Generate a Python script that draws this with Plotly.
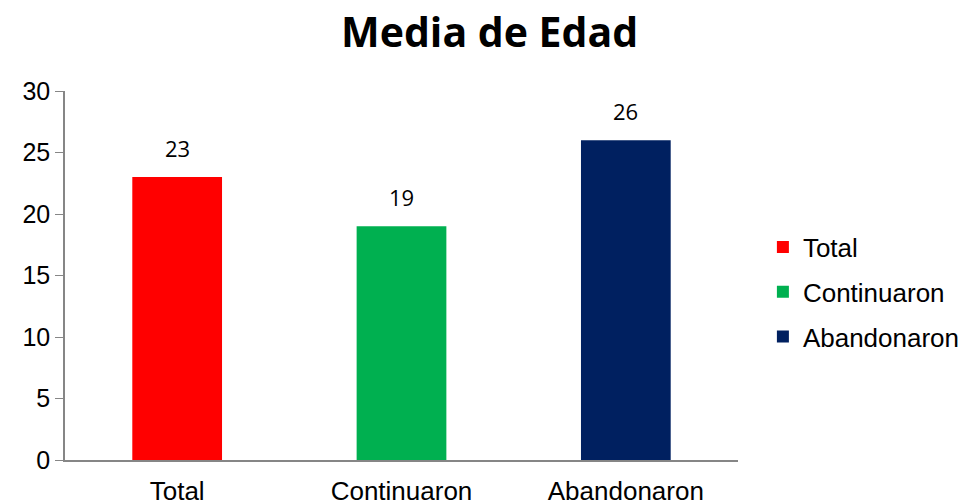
import plotly.graph_objects as go

categories = ["Total", "Continuaron", "Abandonaron"]
values = [23, 19, 26]
colors = ["#FF0000", "#00B050", "#002060"]

fig = go.Figure()
for cat, val, col in zip(categories, values, colors):
    fig.add_trace(go.Bar(
        x=[cat], y=[val], name=cat, legendgroup=cat,
        marker=dict(color=col, line=dict(width=0)),
        width=0.4,
    ))
    fig.add_annotation(
        x=cat, y=val, text=str(val), showarrow=False,
        yanchor="bottom", yshift=12,
        font=dict(family="Open Sans", size=22, color="#000000"),
    )

fig.update_layout(
    barmode="overlay",
    width=962, height=504,
    margin=dict(l=65, r=224, t=91, b=44, autoexpand=False),
    paper_bgcolor="white", plot_bgcolor="white",
    title=dict(
        text="<b>Media de Edad</b>",
        x=0.509, xref="container", xanchor="center",
        y=0.935, yref="container", yanchor="middle",
        font=dict(family="Open Sans", size=41, color="#000000"),
    ),
    legend=dict(
        x=1.037, xanchor="left", y=0.455, yanchor="middle",
        font=dict(family="Liberation Sans, Arial", size=26, color="#000000"),
        itemwidth=30, tracegroupgap=8,
    ),
    showlegend=True,
)
fig.update_xaxes(
    showline=True, linecolor="#868686", linewidth=1.5,
    ticks="", showgrid=False, automargin=False, ticklabelstandoff=7,
    tickfont=dict(family="Liberation Sans, Arial", size=26, color="#000000"),
)
fig.update_yaxes(
    range=[0, 30], dtick=5, showline=True, linecolor="#868686", linewidth=1.5,
    ticks="outside", ticklen=8, tickcolor="#868686", showgrid=False, zeroline=False,
    automargin=False,
    tickfont=dict(family="Liberation Sans, Arial", size=25, color="#000000"),
)

fig.write_html("out.html")
